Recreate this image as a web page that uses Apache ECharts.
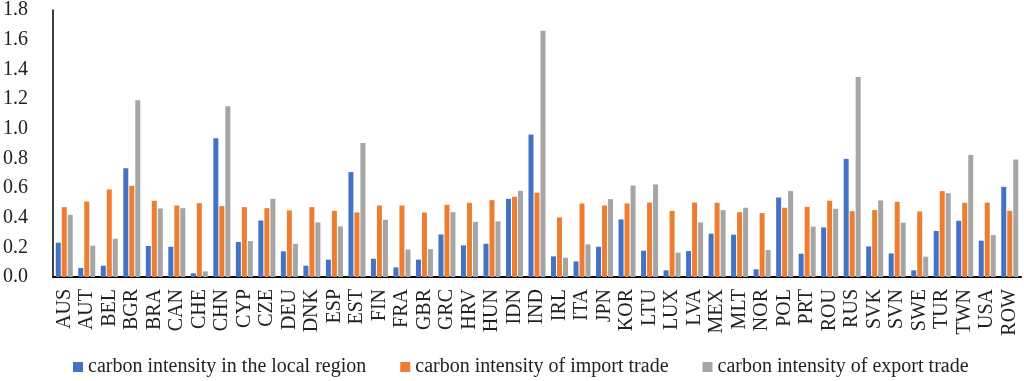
<!DOCTYPE html>
<html>
<head>
<meta charset="utf-8">
<script src="https://cdn.jsdelivr.net/npm/echarts@6/dist/echarts.min.js"></script>
<style>
  html, body { margin: 0; padding: 0; background: #fff; }
  #chartBox { width: 1024px; height: 381px; }
</style>
</head>
<body>
<div id="chartBox"></div>
<script>
var regions = ["AUS", "AUT", "BEL", "BGR", "BRA", "CAN", "CHE", "CHN", "CYP", "CZE", "DEU", "DNK", "ESP", "EST", "FIN", "FRA", "GBR", "GRC", "HRV", "HUN", "IDN", "IND", "IRL", "ITA", "JPN", "KOR", "LTU", "LUX", "LVA", "MEX", "MLT", "NOR", "POL", "PRT", "ROU", "RUS", "SVK", "SVN", "SWE", "TUR", "TWN", "USA", "ROW"];

// carbon intensity in the local region
var localVals = [0.231, 0.061, 0.076, 0.733, 0.209, 0.204, 0.025, 0.935, 0.236, 0.381, 0.173, 0.076, 0.117,
  0.707, 0.123, 0.065, 0.117, 0.287, 0.213, 0.224, 0.527, 0.960, 0.139, 0.105, 0.204, 0.388, 0.177, 0.045,
  0.175, 0.292, 0.285, 0.052, 0.536, 0.157, 0.334, 0.796, 0.206, 0.159, 0.045, 0.310, 0.379, 0.245, 0.608];
// carbon intensity of import trade
var importVals = [0.471, 0.509, 0.590, 0.615, 0.514, 0.482, 0.498, 0.478, 0.471, 0.464, 0.449, 0.471, 0.446,
  0.435, 0.482, 0.482, 0.435, 0.487, 0.500, 0.518, 0.541, 0.568, 0.402, 0.496, 0.482, 0.496, 0.502, 0.446,
  0.502, 0.500, 0.437, 0.431, 0.467, 0.473, 0.514, 0.444, 0.451, 0.507, 0.442, 0.579, 0.500, 0.502, 0.446];
// carbon intensity of export trade
var exportVals = [0.419, 0.211, 0.258, 1.191, 0.462, 0.464, 0.038, 1.151, 0.242, 0.527, 0.224, 0.368, 0.341,
  0.904, 0.386, 0.186, 0.188, 0.437, 0.372, 0.375, 0.581, 1.660, 0.130, 0.220, 0.525, 0.617, 0.624, 0.164,
  0.368, 0.451, 0.467, 0.182, 0.579, 0.339, 0.460, 1.348, 0.516, 0.366, 0.137, 0.565, 0.823, 0.283, 0.792];

var seriesNames = [
  "carbon intensity in the local region",
  "carbon intensity of import trade",
  "carbon intensity of export trade"
];
var colors = ["#4472c4", "#ed7d31", "#a5a5a5"];

var fontFam = "'Liberation Serif', 'Times New Roman', serif";

var chart = echarts.init(document.getElementById("chartBox"));

function makeSeries(i, data) {
  return {
    name: seriesNames[i],
    type: "bar",
    data: data,
    barWidth: 5,
    barGap: "20%",
    itemStyle: { color: colors[i] }
  };
}

var option = {
  animation: false,
  color: colors,
  grid: { left: 48, right: 3, top: 9, bottom: 104, containLabel: false },
  legend: {
    top: 357,
    left: 73,
    padding: 0,
    itemWidth: 10,
    itemHeight: 10,
    itemGap: 34,
    icon: "rect",
    textStyle: { fontFamily: fontFam, fontSize: 20, color: "#222" },
    data: seriesNames
  },
  xAxis: {
    type: "category",
    data: regions,
    axisLine: { lineStyle: { color: "#000", width: 2 } },
    axisTick: { show: false },
    axisLabel: {
      rotate: 90,
      interval: 0,
      margin: 12,
      fontFamily: fontFam,
      fontSize: 20,
      color: "#222"
    }
  },
  yAxis: {
    type: "value",
    min: 0,
    max: 1.8,
    interval: 0.2,
    axisLine: { show: true, lineStyle: { color: "#000", width: 1.5 } },
    axisTick: { show: false },
    splitLine: { show: false },
    axisLabel: {
      margin: 25,
      fontFamily: fontFam,
      fontSize: 20,
      color: "#222",
      formatter: function (v) { return v.toFixed(1); }
    }
  },
  series: [
    makeSeries(0, localVals),
    makeSeries(1, importVals),
    makeSeries(2, exportVals)
  ]
};

chart.setOption(option);
</script>
</body>
</html>
